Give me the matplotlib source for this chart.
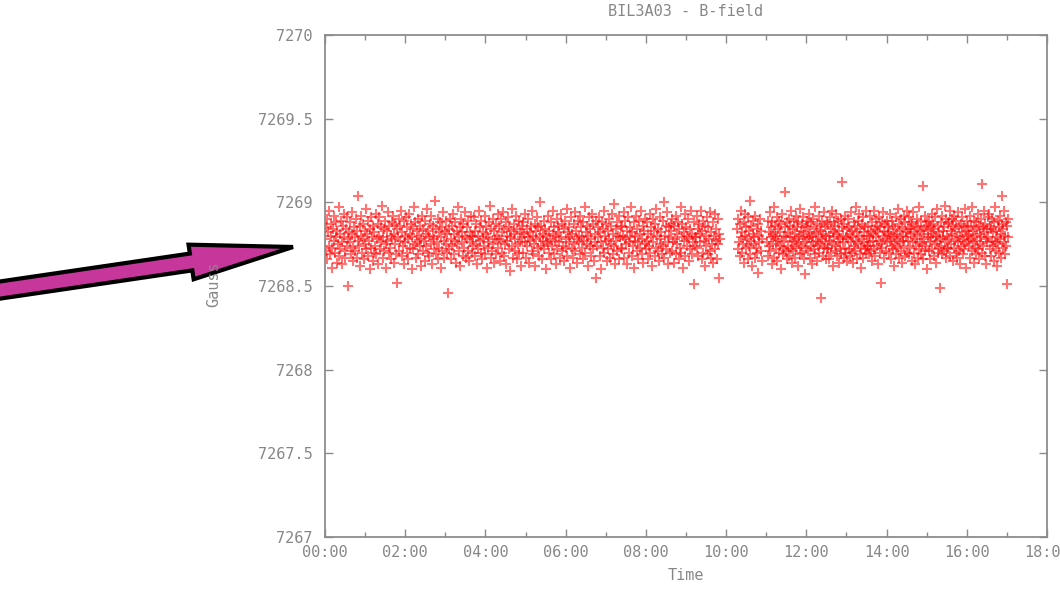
import numpy as np
import matplotlib.pyplot as plt
from matplotlib.patches import FancyArrow
from matplotlib.ticker import MultipleLocator, FuncFormatter

plt.rcParams['font.family'] = ['DejaVu Sans Mono']

# time segments (hours) in which the probe was logging
seg_bounds = [(0.0, 9.85), (10.28, 10.90), (11.03, 17.03)]
base_gauss = 7268.0

# readings in 1/100 Gauss above 7268
seg1 = [
    78, 85, 71, 90, 66, 82, 74, 95, 69, 80, 87, 73, 61, 84, 77, 92, 70, 79, 88, 64, 83, 75, 97, 68, 81, 72, 89, 76, 63, 86, 79, 93, 71, 67, 84, 74, 91, 78, 50, 82,
    76, 88, 69, 81, 94, 73, 65, 85, 79, 71, 90, 83, 67, 77, 104, 74, 86, 62, 80, 92, 70, 78, 87, 66, 83, 75, 96, 72, 81, 68, 89, 77, 60, 84, 73, 91, 79, 65, 86, 70,
    82, 74, 93, 69, 78, 87, 63, 80, 91, 72, 85, 76, 98, 67, 79, 84, 71, 89, 75, 61, 83, 77, 94, 70, 86, 73, 80, 66, 88, 78, 92, 64, 81, 75, 87, 69, 84, 52, 79, 90,
    71, 86, 77, 95, 68, 82, 74, 89, 63, 80, 76, 91, 70, 85, 78, 66, 93, 73, 81, 87, 60, 79, 84, 72, 97, 75, 88, 67, 83, 76, 90, 69, 80, 74, 86, 62, 78, 92, 71, 84,
    77, 89, 65, 81, 74, 96, 70, 83, 79, 68, 87, 75, 92, 63, 80, 86, 72, 78, 101, 69, 84, 76, 90, 66, 82, 73, 88, 79, 61, 85, 71, 94, 77, 67, 83, 75, 89, 70, 81, 46,
    84, 72, 90, 78, 66, 86, 74, 93, 69, 81, 77, 88, 64, 83, 75, 97, 71, 79, 85, 62, 90, 76, 82, 68, 87, 73, 80, 94, 67, 78, 85, 71, 89, 65, 82, 76, 92, 70, 80, 74,
    79, 91, 68, 83, 75, 87, 63, 80, 72, 95, 77, 85, 70, 89, 66, 82, 78, 74, 92, 69, 81, 86, 61, 79, 73, 88, 76, 98, 67, 84, 71, 90, 75, 64, 83, 78, 87, 69, 80, 93,
    73, 86, 78, 65, 90, 76, 82, 70, 94, 68, 84, 75, 88, 63, 80, 77, 91, 72, 85, 59, 79, 83, 74, 96, 67, 81, 87, 71, 78, 92, 66, 84, 75, 89, 70, 82, 76, 62, 86, 79,
    88, 70, 81, 76, 93, 67, 84, 74, 79, 90, 64, 82, 77, 86, 71, 95, 69, 80, 75, 87, 62, 83, 78, 91, 73, 85, 68, 79, 100, 74, 86, 66, 81, 77, 89, 72, 84, 60, 80, 76,
    75, 92, 70, 83, 78, 66, 88, 74, 81, 95, 69, 85, 77, 63, 80, 90, 72, 86, 76, 82, 67, 93, 79, 71, 87, 74, 84, 65, 89, 78, 73, 96, 68, 82, 76, 85, 61, 79, 91, 72,
    81, 67, 87, 75, 94, 71, 83, 78, 64, 89, 76, 80, 92, 69, 85, 73, 79, 66, 88, 77, 97, 70, 82, 75, 86, 62, 80, 91, 74, 84, 68, 78, 93, 72, 87, 65, 81, 76, 89, 55,
    74, 85, 79, 91, 68, 82, 76, 60, 88, 73, 84, 95, 70, 80, 77, 87, 65, 83, 72, 90, 78, 67, 86, 75, 93, 69, 81, 74, 99, 63, 84, 77, 88, 71, 80, 92, 66, 79, 85, 73,
    86, 72, 80, 94, 67, 78, 89, 75, 83, 63, 91, 76, 70, 85, 79, 97, 68, 82, 74, 88, 61, 80, 77, 92, 71, 84, 76, 66, 89, 73, 81, 95, 69, 78, 86, 64, 83, 75, 90, 72,
    77, 88, 66, 81, 74, 93, 70, 85, 79, 62, 90, 76, 83, 68, 87, 73, 96, 80, 71, 84, 65, 78, 91, 75, 82, 69, 89, 74, 100, 67, 80, 86, 72, 94, 76, 63, 85, 79, 70, 87,
    83, 71, 90, 76, 64, 86, 78, 92, 69, 81, 75, 88, 66, 84, 73, 97, 70, 79, 87, 61, 82, 77, 93, 68, 85, 74, 80, 90, 65, 78, 84, 72, 95, 69, 81, 76, 88, 51, 79, 74,
    79, 92, 73, 84, 68, 87, 76, 81, 95, 66, 83, 70, 89, 77, 62, 86, 74, 80, 91, 69, 85, 78, 71, 94, 67, 82, 75, 88, 64, 80, 93, 72, 84, 77, 66, 90, 75, 81, 55, 78,
]
seg2 = [
    84, 72, 90, 76, 68, 87, 79, 95, 70, 82, 75, 88, 64, 80, 93, 73, 85, 78, 66, 91, 74, 83, 101, 69, 86,
    77, 62, 81, 89, 75, 79, 67, 92, 73, 84, 70, 87, 58, 80, 76, 90, 71, 83, 65, 78,
]
seg3 = [
    76, 89, 68, 82, 74, 94, 71, 85, 79, 63, 88, 75, 81, 97, 67, 80, 86, 72, 78, 91, 65, 84, 77, 70, 89, 74, 82, 60, 87, 76, 93, 69, 80, 73, 85, 106, 71, 79, 88, 66,
    82, 74, 90, 68, 79, 86, 72, 95, 77, 64, 84, 71, 89, 76, 81, 67, 92, 73, 85, 78, 62, 88, 75, 80, 96, 69, 83, 74, 87, 70, 79, 91, 66, 82, 76, 57, 86, 73, 89, 78,
    71, 85, 79, 93, 67, 81, 74, 88, 63, 80, 76, 90, 72, 84, 69, 97, 77, 82, 65, 87, 74, 79, 92, 70, 86, 75, 43, 83, 78, 89, 68, 81, 94, 73, 85, 76, 66, 80, 88, 72,
    87, 73, 80, 66, 91, 77, 84, 70, 95, 75, 82, 62, 88, 79, 71, 86, 74, 93, 68, 81, 76, 89, 64, 83, 78, 72, 90, 69, 85, 112, 76, 80, 67, 87, 73, 92, 79, 70, 84, 65,
    78, 90, 72, 85, 68, 81, 76, 94, 70, 83, 79, 64, 88, 74, 86, 71, 97, 77, 82, 66, 89, 75, 80, 93, 69, 84, 73, 61, 87, 78, 91, 67, 82, 76, 85, 72, 95, 70, 80, 74,
    74, 86, 80, 69, 92, 76, 83, 71, 88, 65, 81, 77, 95, 72, 84, 68, 79, 90, 74, 86, 63, 82, 77, 91, 70, 85, 75, 52, 88, 73, 80, 94, 67, 83, 78, 87, 71, 89, 76, 81,
    85, 70, 82, 77, 93, 66, 80, 74, 89, 72, 86, 79, 62, 84, 75, 91, 69, 81, 78, 96, 73, 87, 67, 83, 76, 90, 71, 85, 64, 80, 77, 92, 74, 88, 68, 82, 79, 95, 70, 84,
    77, 91, 69, 84, 73, 88, 81, 65, 87, 76, 94, 70, 82, 78, 63, 86, 74, 90, 80, 67, 85, 72, 97, 76, 83, 69, 89, 75, 81, 110, 66, 84, 78, 92, 71, 86, 74, 60, 88, 79,
    83, 71, 89, 76, 66, 85, 79, 93, 72, 81, 87, 68, 84, 75, 91, 64, 80, 77, 96, 70, 86, 73, 82, 78, 49, 88, 74, 92, 69, 83, 79, 85, 71, 98, 76, 67, 90, 80, 73, 87,
    72, 88, 78, 95, 68, 83, 75, 90, 81, 65, 86, 73, 92, 77, 84, 70, 89, 67, 80, 76, 94, 71, 85, 79, 63, 87, 74, 91, 82, 69, 78, 86, 72, 96, 75, 83, 61, 89, 77, 80,
    86, 74, 81, 67, 92, 78, 85, 71, 97, 76, 83, 64, 89, 73, 80, 88, 69, 84, 77, 93, 72, 86, 66, 81, 75, 90, 79, 111, 70, 85, 74, 82, 95, 68, 87, 78, 63, 84, 76, 91,
    79, 93, 72, 86, 68, 84, 77, 90, 74, 82, 65, 88, 76, 97, 71, 83, 79, 62, 89, 75, 85, 70, 92, 78, 81, 67, 87, 104, 73, 84, 76, 95, 69, 80, 88, 74, 51, 86, 79, 90,
]

times = []
gauss = []
for (t0, t1), vals in zip(seg_bounds, [seg1, seg2, seg3]):
    times.append(np.linspace(t0, t1, len(vals)))
    gauss.append(base_gauss + np.array(vals) / 100.0)
times = np.concatenate(times)
gauss = np.concatenate(gauss)

W, H = 1060, 609
grey = '#878787'
spine = '#8c8c8c'

fig = plt.figure(figsize=(W / 100, H / 100), dpi=100)
ax = fig.add_axes([325 / W, 1 - 537 / H, (1047 - 325) / W, (537 - 35) / H])
ax.plot(times, gauss, '+', color='red', ms=7.5, mew=1.5, alpha=0.55, ls='none')

ax.set_xlim(0, 18)
ax.set_ylim(7267, 7270)
ax.xaxis.set_major_locator(MultipleLocator(2))
ax.xaxis.set_minor_locator(MultipleLocator(1))
ax.yaxis.set_major_locator(MultipleLocator(0.5))
ax.xaxis.set_major_formatter(FuncFormatter(lambda x, _: f'{int(round(x)):02d}:00'))
ax.yaxis.set_major_formatter(FuncFormatter(lambda y, _: f'{y:g}'))

for s in ax.spines.values():
    s.set_color(spine)
    s.set_linewidth(1.3)
ax.tick_params(which='major', direction='in', top=True, right=True, length=6,
               width=1, color=spine, labelcolor=grey, labelsize=11)
ax.tick_params(which='minor', direction='in', top=True, right=True, length=3.5,
               width=1, color=spine)
ax.tick_params(axis='x', pad=6)
ax.tick_params(axis='y', pad=9)

fig.text(686 / W, 1 - 12 / H, 'BIL3A03 - B-field', ha='center', va='center',
         color=grey, fontsize=11)
fig.text(686 / W, 1 - 576 / H, 'Time', ha='center', va='center',
         color=grey, fontsize=11)
fig.text(214 / W, 1 - 284 / H, 'Gauss', ha='center', va='center',
         rotation=90, color=grey, fontsize=11)

# pointer arrow drawn over everything, in pixel units
ov = fig.add_axes([0, 0, 1, 1])
ov.set_xlim(0, W)
ov.set_ylim(H, 0)
ov.axis('off')
ov.patch.set_alpha(0)
ov.add_patch(FancyArrow(-20, 293, 313, -46, width=17, head_width=35,
                        head_length=103, length_includes_head=True,
                        fc='#c7369b', ec='black', lw=3, joinstyle='miter'))

fig.savefig('out.png', dpi=100)
